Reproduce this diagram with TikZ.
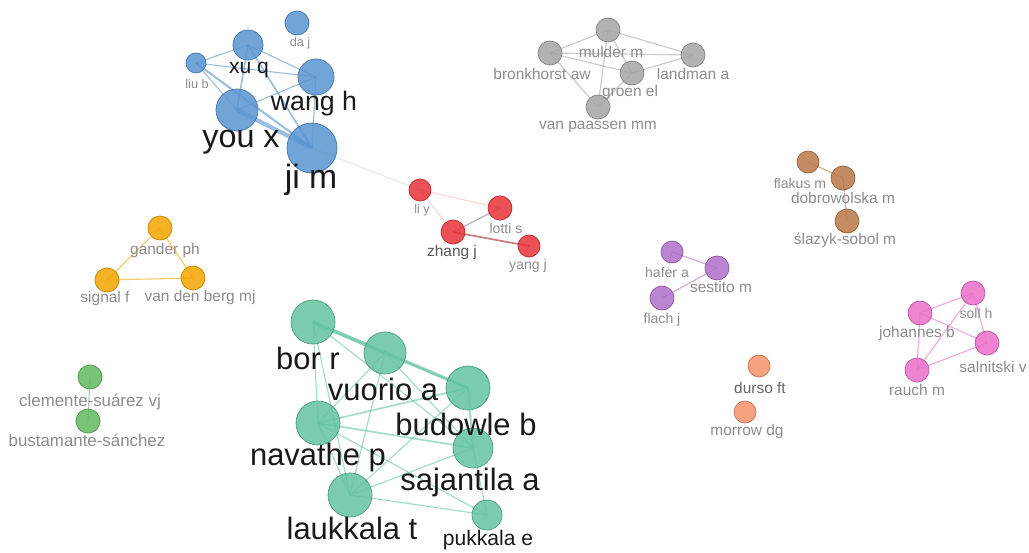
\documentclass[tikz,border=0pt]{standalone}
\usepackage{fontspec}
\setmainfont{Liberation Sans}
\usetikzlibrary{positioning}

\definecolor{vblue}{RGB}{88,148,208}
\definecolor{vgray}{RGB}{165,165,165}
\definecolor{vred}{RGB}{232,50,55}
\definecolor{vbrown}{RGB}{185,120,70}
\definecolor{vorange}{RGB}{245,165,0}
\definecolor{vpurple}{RGB}{175,110,200}
\definecolor{vpink}{RGB}{235,110,200}
\definecolor{vgreen}{RGB}{95,185,95}
\definecolor{vteal}{RGB}{100,195,160}
\definecolor{vsalmon}{RGB}{245,145,105}
\definecolor{lgray}{RGB}{140,140,140}

\begin{document}
\begin{tikzpicture}[
          x=0.025cm,y=-0.025cm,
          bub/.style={
              circle,
              inner sep=0pt,
              minimum size=0.05cm*#1,
              line width=0.5pt,
              fill opacity=0.85
            },clr/.style={
              fill=#1,
              draw=#1!80!black
            },lnk/.style={
              line width=#1,
              opacity=0.6
            },lnk/.default=0.8pt,
          lbl/.style={
              inner sep=0pt,
              font=\fontsize{#1}{#1}\selectfont,
              text=lgray
            },lbl/.default=11,
          big/.style={
              lbl=#1,
              text=black!90
            },big/.default=22
        ]
        \useasboundingbox (0,0) rectangle (1029,552);

        % 座標の定義
        \coordinate (daj) at (297,23);
        \coordinate (xuq) at (248,45);
        \coordinate (liub) at (196,63);
        \coordinate (wangh) at (316,77);
        \coordinate (youx) at (237,110);
        \coordinate (jim) at (312,148);

        \coordinate (mulder) at (608,30);
        \coordinate (bronk) at (550,53);
        \coordinate (landman) at (693,55);
        \coordinate (groen) at (632,73);
        \coordinate (paassen) at (598,107);

        \coordinate (liy) at (420,190);
        \coordinate (lotti) at (500,208);
        \coordinate (zhang) at (453,232);
        \coordinate (yang) at (529,246);

        \coordinate (flakus) at (808,162);
        \coordinate (dobrow) at (843,178);
        \coordinate (slazyk) at (847,221);

        \coordinate (hafer) at (672,252);
        \coordinate (sestito) at (717,268);
        \coordinate (flach) at (662,298);

        \coordinate (soll) at (973,293);
        \coordinate (johannes) at (920,313);
        \coordinate (salnitski) at (987,343);
        \coordinate (rauch) at (917,370);

        \coordinate (gander) at (160,228);
        \coordinate (signal) at (107,280);
        \coordinate (vdberg) at (193,278);

        \coordinate (clemente) at (90,377);
        \coordinate (bustam) at (88,421);

        \coordinate (durso) at (759,366);
        \coordinate (morrow) at (745,412);

        \coordinate (borr) at (313,322);
        \coordinate (vuorio) at (385,353);
        \coordinate (budowle) at (468,388);
        \coordinate (navathe) at (318,423);
        \coordinate (sajantila) at (473,448);
        \coordinate (laukkala) at (350,495);
        \coordinate (pukkala) at (487,515);

        % リンク
        \draw[lnk, black!15] (jim) -- (liy);
        \draw[lnk, vblue] (liub) -- (xuq);
        \draw[lnk, vblue] (liub) -- (youx);
        \draw[lnk=1.5pt, vblue] (liub) -- (jim);
        \draw[lnk, vblue] (xuq) -- (wangh);
        \draw[lnk=1.2pt, vblue] (xuq) -- (youx);
        \draw[lnk=1.2pt, vblue] (xuq) -- (jim);
        \draw[lnk, vblue] (liub) -- (wangh);
        \draw[lnk, vblue] (youx) -- (wangh);
        \draw[lnk, vblue] (wangh) -- (jim);
        \draw[lnk=3pt, vblue] (youx) -- (jim);

        \draw[lnk, vgray] (bronk) -- (landman);
        \draw[lnk, vgray] (bronk) -- (mulder);
        \draw[lnk, vgray] (mulder) -- (landman);
        \draw[lnk, vgray] (mulder) -- (groen);
        \draw[lnk, vgray] (bronk) -- (groen);
        \draw[lnk, vgray] (groen) -- (landman);
        \draw[lnk, vgray] (bronk) -- (paassen);
        \draw[lnk, vgray] (groen) -- (paassen);
        \draw[lnk, vgray] (mulder) -- (paassen);

        \draw[lnk=0.6pt, vred!40] (liy) -- (lotti);
        \draw[lnk=0.6pt, vred!40] (liy) -- (zhang);
        \draw[lnk, vblue!60!vred] (zhang) -- (lotti);
        \draw[lnk=1.2pt, vred!70!black] (zhang) -- (yang);

        \draw[lnk, vbrown] (flakus) -- (dobrow);
        \draw[lnk, vbrown] (dobrow) -- (slazyk);

        \draw[lnk, vpurple] (hafer) -- (sestito);
        \draw[lnk, vpurple] (sestito) -- (flach);
        \draw[lnk=0.5pt, vpurple!60] (hafer) -- (flach);

        \draw[lnk, vpink] (johannes) -- (soll);
        \draw[lnk, vpink] (johannes) -- (salnitski);
        \draw[lnk, vpink] (johannes) -- (rauch);
        \draw[lnk, vpink] (rauch) -- (soll);
        \draw[lnk, vpink] (rauch) -- (salnitski);
        \draw[lnk, vpink] (soll) -- (salnitski);

        \draw[lnk, vorange] (gander) -- (signal);
        \draw[lnk, vorange] (signal) -- (vdberg);
        \draw[lnk, vorange] (gander) -- (vdberg);

        \draw[lnk, vgreen] (clemente) -- (bustam);

        \draw[lnk=2.5pt, vteal] (borr) -- (vuorio);
        \draw[lnk=2.5pt, vteal] (borr) -- (budowle);
        \draw[lnk=1.5pt, vteal] (vuorio) -- (budowle);
        \draw[lnk, vteal] (borr) -- (navathe);
        \draw[lnk, vteal] (borr) -- (laukkala);
        \draw[lnk, vteal] (borr) -- (sajantila);
        \draw[lnk, vteal] (vuorio) -- (navathe);
        \draw[lnk, vteal] (vuorio) -- (laukkala);
        \draw[lnk, vteal] (vuorio) -- (sajantila);
        \draw[lnk=1.2pt, vteal] (navathe) -- (budowle);
        \draw[lnk=1.2pt, vteal] (navathe) -- (sajantila);
        \draw[lnk, vteal] (navathe) -- (laukkala);
        \draw[lnk, vteal] (navathe) -- (pukkala);
        \draw[lnk, vteal] (laukkala) -- (sajantila);
        \draw[lnk, vteal] (laukkala) -- (budowle);
        \draw[lnk, vteal] (laukkala) -- (pukkala);
        \draw[lnk=1.5pt, vteal] (budowle) -- (sajantila);
        \draw[lnk, vteal] (sajantila) -- (pukkala);

        % 円の描画
        \node[bub=12, clr=vblue] (daj-b) at (daj) {};
        \node[bub=15, clr=vblue] (xuq-b) at (xuq) {};
        \node[bub=10, clr=vblue] (liub-b) at (liub) {};
        \node[bub=18, clr=vblue] (wangh-b) at (wangh) {};
        \node[bub=21, clr=vblue] (youx-b) at (youx) {};
        \node[bub=25, clr=vblue] (jim-b) at (jim) {};

        \node[bub=12, clr=vgray] (mulder-b) at (mulder) {};
        \node[bub=12, clr=vgray] (bronk-b) at (bronk) {};
        \node[bub=12, clr=vgray] (landman-b) at (landman) {};
        \node[bub=12, clr=vgray] (groen-b) at (groen) {};
        \node[bub=12, clr=vgray] (paassen-b) at (paassen) {};

        \node[bub=11, clr=vred] (liy-b) at (liy) {};
        \node[bub=12, clr=vred] (lotti-b) at (lotti) {};
        \node[bub=12, clr=vred] (zhang-b) at (zhang) {};
        \node[bub=11, clr=vred] (yang-b) at (yang) {};

        \node[bub=11, clr=vbrown] (flakus-b) at (flakus) {};
        \node[bub=12, clr=vbrown] (dobrow-b) at (dobrow) {};
        \node[bub=12, clr=vbrown] (slazyk-b) at (slazyk) {};

        \node[bub=11, clr=vpurple] (hafer-b) at (hafer) {};
        \node[bub=12, clr=vpurple] (sestito-b) at (sestito) {};
        \node[bub=12, clr=vpurple] (flach-b) at (flach) {};

        \node[bub=12, clr=vpink] (soll-b) at (soll) {};
        \node[bub=12, clr=vpink] (johannes-b) at (johannes) {};
        \node[bub=12, clr=vpink] (salnitski-b) at (salnitski) {};
        \node[bub=12, clr=vpink] (rauch-b) at (rauch) {};

        \node[bub=12, clr=vorange] (gander-b) at (gander) {};
        \node[bub=12, clr=vorange] (signal-b) at (signal) {};
        \node[bub=12, clr=vorange] (vdberg-b) at (vdberg) {};

        \node[bub=12, clr=vgreen] (clemente-b) at (clemente) {};
        \node[bub=12, clr=vgreen] (bustam-b) at (bustam) {};

        \node[bub=11, clr=vsalmon] (durso-b) at (durso) {};
        \node[bub=11, clr=vsalmon] (morrow-b) at (morrow) {};

        \node[bub=22, clr=vteal] (borr-b) at (borr) {};
        \node[bub=21, clr=vteal] (vuorio-b) at (vuorio) {};
        \node[bub=22, clr=vteal] (budowle-b) at (budowle) {};
        \node[bub=22, clr=vteal] (navathe-b) at (navathe) {};
        \node[bub=20, clr=vteal] (sajantila-b) at (sajantila) {};
        \node[bub=22, clr=vteal] (laukkala-b) at (laukkala) {};
        \node[bub=15, clr=vteal] (pukkala-b) at (pukkala) {};

        % ラベル
        \node[lbl=9] (daj-l) at (300,43) {da j};
        \node[big=15] (xuq-l) at (249,70) {xu q};
        \node[lbl=9] (liub-l) at (197,84) {liu b};
        \node[big=19] (wangh-l) at (314,104) {wang h};
        \node[big=23] (youx-l) at (241,142) {you x};
        \node[big=24] (jim-l) at (311,180) {ji m};

        \node[lbl] (mulder-l) at (611,52) {mulder m};
        \node[lbl] (bronk-l) at (542,74) {bronkhorst aw};
        \node[lbl] (landman-l) at (693,74) {landman a};
        \node[lbl] (groen-l) at (630,92) {groen el};
        \node[lbl] (paassen-l) at (598,127) {van paassen mm};

        \node[lbl=9] (liy-l) at (422,210) {li y};
        \node[lbl=10] (lotti-l) at (506,228) {lotti s};
        \node[lbl=11, text=black!65] (zhang-l) at (452,252) {zhang j};
        \node[lbl=10] (yang-l) at (528,266) {yang j};

        \node[lbl=10] (flakus-l) at (800,183) {flakus m};
        \node[lbl] (dobrow-l) at (843,198) {dobrowolska m};
        \node[lbl] (slazyk-l) at (845,240) {ślazyk-sobol m};

        \node[lbl=10] (hafer-l) at (667,272) {hafer a};
        \node[lbl] (sestito-l) at (721,287) {sestito m};
        \node[lbl=10] (flach-l) at (662,320) {flach j};

        \node[lbl=10] (soll-l) at (976,313) {soll h};
        \node[lbl] (johannes-l) at (917,333) {johannes b};
        \node[lbl] (salnitski-l) at (993,367) {salnitski v};
        \node[lbl] (rauch-l) at (917,390) {rauch m};

        \node[lbl] (gander-l) at (165,250) {gander ph};
        \node[lbl] (signal-l) at (105,298) {signal f};
        \node[lbl] (vdberg-l) at (200,297) {van den berg mj};

        \node[lbl=12] (clemente-l) at (90,402) {clemente-suárez vj};
        \node[lbl=12] (bustam-l) at (87,440) {bustamante-sánchez};

        \node[lbl, text=black!60] (durso-l) at (760,388) {durso ft};
        \node[lbl] (morrow-l) at (747,431) {morrow dg};

        \node[big] (borr-l) at (308,358) {bor r};
        \node[big] (vuorio-l) at (383,389) {vuorio a};
        \node[big] (budowle-l) at (466,424) {budowle b};
        \node[big] (navathe-l) at (318,457) {navathe p};
        \node[big] (sajantila-l) at (470,482) {sajantila a};
        \node[big] (laukkala-l) at (352,528) {laukkala t};
        \node[big=15] (pukkala-l) at (488,540) {pukkala e};

      \end{tikzpicture}
\end{document}
